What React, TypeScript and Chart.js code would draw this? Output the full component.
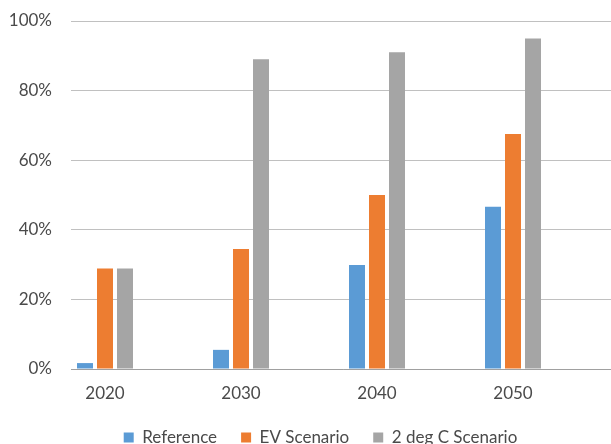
import React, { useEffect, useRef } from "react";
import { Chart, registerables } from "chart.js";

Chart.register(...registerables);

const categories = ["2020", "2030", "2040", "2050"];
const referenceValues = [0.017, 0.055, 0.299, 0.466];
const evScenarioValues = [0.289, 0.345, 0.5, 0.675];
const twoDegValues = [0.289, 0.89, 0.91, 0.95];
const yTickValues = [0, 0.2, 0.4, 0.6, 0.8, 1.0];

const FONT = "Lato";
const TEXT = "#4a4a4a";

export default function App() {
  const ref = useRef<HTMLCanvasElement | null>(null);

  useEffect(() => {
    if (!ref.current) return;
    const toPoints = (arr: number[]) => arr.map((v, i) => ({ x: i, y: v }));
    const chart = new Chart(ref.current, {
      type: "bar",
      data: {
        datasets: [
          { label: "Reference", data: toPoints(referenceValues), backgroundColor: "#5B9BD5", borderWidth: 0 },
          { label: "EV Scenario", data: toPoints(evScenarioValues), backgroundColor: "#ED7D31", borderWidth: 0 },
          { label: "2 deg C Scenario", data: toPoints(twoDegValues), backgroundColor: "#A5A5A5", borderWidth: 0 },
        ],
      },
      options: {
        responsive: false,
        animation: false,
        devicePixelRatio: 1,
        layout: { padding: { top: 21, left: 26, right: 5, bottom: 0 } },
        datasets: { bar: { categoryPercentage: 60 / 136, barPercentage: 0.8 } },
        plugins: {
          tooltip: { enabled: false },
          legend: {
            position: "bottom",
            labels: {
              boxWidth: 10,
              boxHeight: 10,
              padding: 24,
              color: TEXT,
              font: { family: FONT, size: 17 },
            },
          },
        },
        scales: {
          x: {
            type: "linear",
            min: -0.25,
            max: categories.length - 0.25,
            offset: false,
            grid: { display: false, drawTicks: false },
            border: { display: true, color: "#a0a0a0", width: 1 },
            afterBuildTicks: (scale: any) => {
              scale.ticks = categories.map((_, i) => ({ value: i }));
            },
            afterFit: (scale: any) => {
              scale.height = 36;
              scale.paddingLeft = 0;
              scale.paddingRight = 0;
            },
            ticks: {
              autoSkip: false,
              maxRotation: 0,
              padding: 14,
              color: TEXT,
              font: { family: FONT, size: 17 },
              callback: (v: any) => categories[Math.round(Number(v))] ?? "",
            },
          },
          y: {
            min: 0,
            max: 1,
            afterBuildTicks: (scale: any) => {
              scale.ticks = yTickValues.map((v) => ({ value: v }));
            },
            afterFit: (scale: any) => {
              scale.width = 45;
              scale.paddingTop = 0;
              scale.paddingBottom = 0;
              scale._computeLabelArea = () => undefined;
            },
            grid: { color: "#c0c0c0", lineWidth: 1, drawTicks: false },
            border: { display: false },
            ticks: {
              padding: 19,
              color: TEXT,
              font: { family: FONT, size: 17 },
              callback: (v: any) => Math.round(Number(v) * 100) + "%",
            },
          },
        },
      },
    });
    return () => chart.destroy();
  }, []);

  return (
    <div
      style={{
        position: "fixed",
        left: 0,
        top: 0,
        width: 611,
        height: 444,
        overflow: "hidden",
        background: "#fff",
      }}
    >
      <canvas ref={ref} width={620} height={456} style={{ display: "block" }} />
    </div>
  );
}
